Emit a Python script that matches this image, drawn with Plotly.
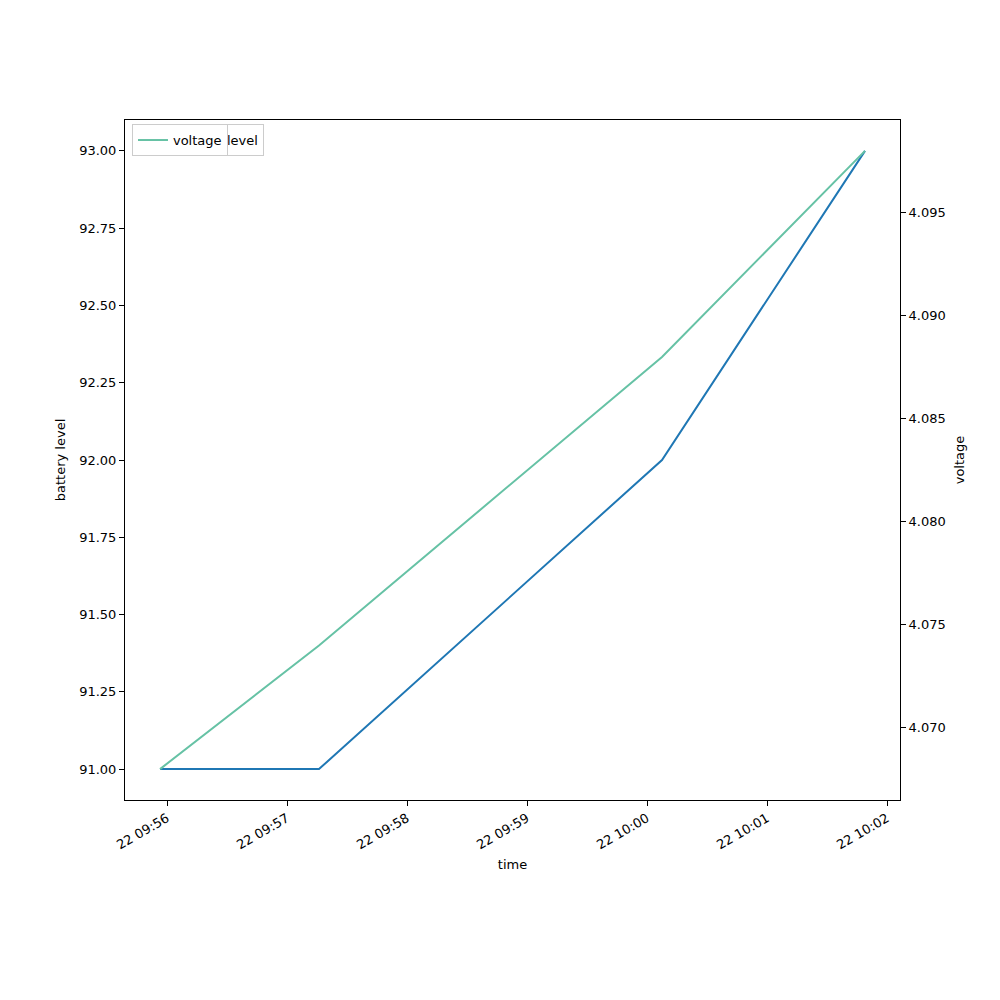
import plotly.graph_objects as go

times = ["2024-01-22 09:55:56.5", "2024-01-22 09:57:16", "2024-01-22 10:00:07.5", "2024-01-22 10:01:49"]
battery_level = [91, 91, 92, 93]
voltage = [4.068, 4.074, 4.088, 4.098]

x_range = ["2024-01-22 09:55:39", "2024-01-22 10:02:06.5"]
tick_vals = ["2024-01-22 09:56", "2024-01-22 09:57", "2024-01-22 09:58", "2024-01-22 09:59",
             "2024-01-22 10:00", "2024-01-22 10:01", "2024-01-22 10:02"]
tick_text = ["22 09:56", "22 09:57", "22 09:58", "22 09:59", "22 10:00", "22 10:01", "22 10:02"]
left_ticks = [91.0, 91.25, 91.5, 91.75, 92.0, 92.25, 92.5, 92.75, 93.0]
right_ticks = [4.070, 4.075, 4.080, 4.085, 4.090, 4.095]

font = dict(family="DejaVu Sans", size=13, color="black")

fig = go.Figure()
fig.add_trace(go.Scatter(x=times, y=battery_level, mode="lines", name="battery_level",
                         line=dict(color="#1f77b4", width=2), legend="legend", showlegend=True))
fig.add_trace(go.Scatter(x=times, y=voltage, mode="lines", name="voltage", yaxis="y2",
                         line=dict(color="#66c2a5", width=2), legend="legend2", showlegend=True))

axis_common = dict(showline=True, linecolor="black", linewidth=1, ticks="outside",
                   ticklen=5, tickcolor="black", showgrid=False, zeroline=False,
                   tickfont=font)

fig.update_layout(
    width=1000, height=1000,
    showlegend=True,
    paper_bgcolor="white", plot_bgcolor="white",
    margin=dict(l=117, r=108, t=112, b=208),
    font=font,
    xaxis=dict(axis_common, range=x_range, tickvals=tick_vals, ticktext=tick_text,
               tickangle=-30, mirror=True, title=dict(text="time", font=font, standoff=8)),
    yaxis=dict(axis_common, range=[90.9, 93.1], tickvals=left_ticks,
               ticktext=[f"{v:.2f}" for v in left_ticks], mirror=True,
               title=dict(text="battery level", font=font, standoff=10)),
    yaxis2=dict(axis_common, range=[4.0665, 4.0995], overlaying="y", side="right",
                tickvals=right_ticks, ticktext=[f"{v:.3f}" for v in right_ticks],
                title=dict(text="voltage", font=font, standoff=10)),
    legend=dict(x=0.009, y=0.994, xanchor="left", yanchor="top", bgcolor="white",
                bordercolor="#cccccc", borderwidth=1, font=font, visible=True),
    legend2=dict(x=0.009, y=0.994, xanchor="left", yanchor="top", bgcolor="white",
                 bordercolor="#cccccc", borderwidth=1, font=font, visible=True),
)

fig.write_html("out.html")
